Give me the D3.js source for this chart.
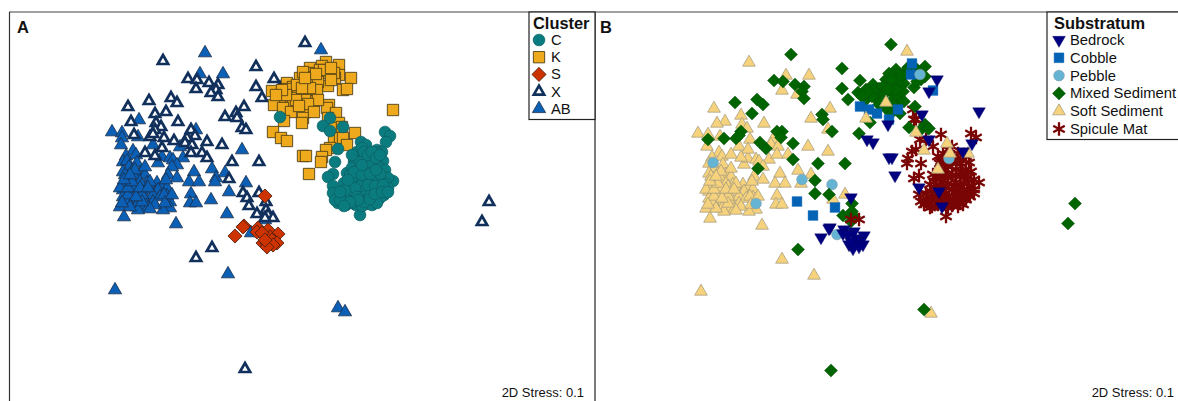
<!DOCTYPE html>
<html>
<head>
<meta charset="utf-8">
<script src="https://cdnjs.cloudflare.com/ajax/libs/d3/7.8.5/d3.min.js"></script>
<style>
  html, body { margin: 0; padding: 0; background: #fff; overflow: hidden; }
  text { font-family: "Liberation Sans", Arial, sans-serif; fill: #111; }
</style>
</head>
<body>
<div id="chart"></div>
<script>
// NMDS scores (hundredths of a unit): [nmds1, nmds2, substratum]
// substratum codes: B bedrock, C cobble, P pebble, M mixed, S soft, U spicule mat
var clusterC = [
  [-20,83,"S"],[30,82,"U"],[23,74,"M"],[30,69,"S"],[43,73,"M"],[38,51,"S"],[35,38,"U"],[33,26,"U"],[28,23,"U"],
  [44,17,"U"],[33,14,"B"],[33,7,"U"],[85,68,"U"],[90,64,"U"],[86,58,"B"],[60,-15,"U"],[61,58,"S"],[66,55,"U"],
  [57,48,"U"],[62,52,"U"],[77,50,"B"],[82,48,"S"],[78,47,"U"],[54,38,"U"],[63,43,"P"],[83,39,"U"],[47,27,"U"],
  [93,19,"U"],[38,-3,"U"],[46,-5,"U"],[43,-2,"U"],[56,-5,"B"],[35,0,"U"],[42,5,"U"],[53,2,"U"],[48,7,"U"],
  [55,40,"U"],[65,40,"U"],[75,38,"U"],[52,32,"S"],[60,32,"U"],[70,32,"U"],[80,32,"U"],[85,30,"U"],[50,25,"U"],
  [58,25,"U"],[66,26,"U"],[74,25,"U"],[82,24,"U"],[88,22,"U"],[55,19,"U"],[62,18,"U"],[70,19,"U"],[78,18,"U"],
  [86,16,"U"],[52,12,"U"],[58,11,"U"],[66,12,"U"],[73,11,"U"],[81,10,"U"],[88,12,"U"],[50,6,"U"],[56,5,"U"],
  [63,5,"U"],[70,5,"U"],[77,4,"U"],[84,5,"U"],[60,-1,"U"],[67,-1,"U"],[74,-2,"U"],[80,2,"U"],[66,-4,"U"],
  [72,-5,"U"],[77,-3,"U"],[62,-6,"U"],[49,13,"U"],[53,10,"B"],[64,48,"S"],
  [60,38,"U"],[70,38,"U"],[80,26,"U"],[54,28,"U"],[62,25,"U"],[70,26,"U"],[76,30,"U"],[60,14,"U"],[68,15,"U"],
  [75,14,"U"],[83,15,"U"],[55,12,"U"],[45,10,"U"],[40,0,"U"],[52,-3,"U"],[57,3,"U"],[64,-2,"U"],[70,1,"U"],
  [75,6,"U"],[82,8,"U"],[88,8,"U"],[48,20,"U"],[52,45,"U"],[68,45,"U"],[72,48,"U"],[62,35,"U"],[58,0,"U"],
  [50,-2,"U"],[44,-6,"U"],[40,8,"U"],[76,42,"U"],[80,45,"U"]
];
var clusterK = [
  [39,135,"M"],[26,138,"C"],[22,134,"M"],[10,132,"M"],[12,127,"M"],[25,127,"C"],[39,125,"M"],[35,122,"M"],[51,122,"B"],
  [0,122,"M"],[3,128,"M"],[7,118,"M"],[13,117,"M"],[-13,117,"M"],[28,114,"M"],[-7,113,"M"],[-12,111,"M"],[7,108,"M"],
  [-2,107,"M"],[-28,109,"M"],[43,110,"B"],[47,111,"C"],[13,105,"M"],[-20,102,"M"],[-9,102,"M"],[0,99,"S"],[14,99,"M"],
  [-26,95,"C"],[-7,97,"M"],[-17,92,"C"],[-9,88,"C"],[12,92,"C"],[5,88,"M"],[3,82,"C"],[2,77,"B"],[-16,79,"M"],
  [29,95,"M"],[27,92,"U"],[36,87,"B"],[28,82,"U"],[39,77,"M"],[35,72,"M"],[42,73,"M"],[55,67,"U"],[93,90,"B"],
  [-27,68,"M"],[-19,62,"B"],[-13,59,"B"],[34,62,"U"],[40,62,"U"],[43,62,"B"],[47,55,"U"],[30,52,"U"],[26,50,"U"],
  [3,44,"B"],[6,44,"B"],[22,43,"U"],[21,38,"U"],[9,26,"B"],[34,127,"P"],[20,130,"M"],[15,123,"M"],[-3,115,"M"],
  [18,118,"M"],[24,130,"M"],[31,132,"M"],[17,110,"M"],[5,100,"M"],[10,112,"M"],[-4,100,"M"],[-14,105,"M"],[-18,110,"M"],
  [-24,105,"M"],[18,100,"M"],[2,112,"M"],[8,96,"M"],[-1,94,"M"],[31,120,"M"],[16,126,"M"],[5,122,"M"],[14,88,"M"]
];
var clusterS = [
  [-35,4,"B"],[-56,-26,"B"],[-65,-36,"B"],[-57,-27,"B"],[-42,-28,"B"],[-32,-30,"B"],[-22,-34,"B"],[-30,-37,"B"],[-37,-43,"B"],
  [-28,-40,"B"],[-23,-43,"B"],[-33,-43,"B"],[-27,-45,"B"],[-43,-32,"B"],[-38,-33,"B"],[-33,-47,"B"],[-35,-40,"B"]
];
var clusterX = [
  [-137,139,"S"],[-44,133,"M"],[5,157,"M"],[-26,121,"M"],[-20,112,"M"],[-44,113,"M"],[-38,102,"M"],[-112,121,"M"],[-103,120,"M"],
  [-91,117,"M"],[-104,111,"S"],[-82,115,"M"],[-84,110,"M"],[-89,107,"S"],[-82,103,"M"],[-129,102,"M"],[-123,97,"M"],[-151,99,"M"],
  [-172,93,"S"],[-169,78,"S"],[-145,86,"S"],[-134,88,"M"],[-122,78,"S"],[-144,77,"S"],[-139,73,"S"],[-145,70,"M"],[-166,65,"S"],
  [-150,63,"M"],[-147,66,"M"],[-136,62,"S"],[-126,59,"M"],[-109,70,"M"],[-105,64,"M"],[-113,62,"S"],[-115,57,"S"],[-108,55,"S"],
  [-93,58,"M"],[-78,55,"S"],[-138,52,"S"],[-155,47,"S"],[-145,44,"S"],[-109,47,"S"],[-98,47,"S"],[-93,42,"M"],[-68,38,"M"],
  [-41,38,"M"],[-71,21,"M"],[-75,83,"S"],[-64,87,"M"],[-63,82,"M"],[-56,93,"S"],[-58,72,"S"],[-54,70,"M"],[-57,7,"M"],
  [-53,2,"S"],[-51,-6,"C"],[-41,7,"S"],[-34,-2,"M"],[-43,-14,"M"],[-34,-10,"M"],[-32,-15,"M"],[-27,-18,"U"],[-35,-18,"U"],
  [189,-2,"M"],[182,-22,"M"],[-55,-169,"M"],[-104,-58,"S"],[-88,-48,"M"]
];
var clusterAB = [
  [-95,147,"M"],[21,150,"S"],[-100,126,"S"],[-77,126,"S"],[-161,80,"S"],[-188,68,"S"],[-178,67,"S"],[-178,62,"M"],[-179,55,"S"],
  [-162,63,"M"],[-104,70,"M"],[-147,55,"S"],[-120,53,"M"],[-58,50,"S"],[-167,49,"S"],[-174,44,"S"],[-164,45,"S"],[-177,38,"S"],
  [-173,39,"P"],[-171,33,"S"],[-163,37,"S"],[-177,28,"S"],[-168,28,"S"],[-160,27,"S"],[-155,25,"S"],[-173,23,"S"],[-165,22,"S"],
  [-178,15,"S"],[-170,17,"S"],[-160,18,"S"],[-153,17,"S"],[-143,17,"S"],[-137,15,"S"],[-177,10,"S"],[-170,10,"S"],[-162,8,"S"],
  [-148,10,"S"],[-142,10,"S"],[-133,12,"S"],[-177,3,"S"],[-167,5,"S"],[-155,3,"S"],[-147,5,"S"],[-133,4,"S"],[-180,-7,"S"],
  [-168,-2,"S"],[-160,-3,"S"],[-155,-2,"S"],[-147,-2,"S"],[-130,-2,"P"],[-130,-8,"S"],[-157,-7,"S"],[-152,-8,"S"],[-137,-10,"S"],
  [-176,-17,"S"],[-142,37,"S"],[-138,43,"S"],[-130,42,"S"],[-127,40,"S"],[-117,42,"S"],[-123,35,"S"],[-128,33,"M"],[-132,25,"S"],
  [-123,22,"S"],[-134,20,"S"],[-106,28,"S"],[-111,18,"S"],[-101,18,"S"],[-88,31,"S"],[-84,22,"P"],[-85,18,"S"],[-75,27,"S"],
  [-54,17,"P"],[-71,8,"M"],[-109,6,"S"],[-110,-3,"S"],[-104,-3,"S"],[-89,0,"C"],[-73,-14,"C"],[-124,-24,"S"],[-49,-33,"P"],
  [-185,-90,"S"],[-72,-74,"S"],[38,-108,"M"],[45,-112,"S"],[-35,-20,"M"],[-173,0,"S"],[-164,-7,"S"],[-158,15,"S"],[-174,17,"S"],
  [-175,25,"S"],[-180,12,"S"],[-172,5,"S"],[-165,12,"S"],[-158,5,"S"],[-150,18,"S"],[-140,3,"S"],[-145,-5,"S"],[-162,-10,"S"],
  [-170,-7,"S"],[-178,-3,"S"],[-165,30,"S"],[-155,33,"S"],[-172,12,"S"],[-168,18,"S"],[-150,-9,"S"],[-158,-2,"S"],[-164,3,"S"],
  [-176,20,"S"],[-170,25,"S"],[-160,12,"S"],[-152,12,"S"],[-136,5,"S"],[-135,-3,"S"],[-128,5,"S"]
];

var clusterNames = ["C", "K", "S", "X", "AB"];
var substrateCodes = ["B", "C", "P", "M", "S", "U"];
var substrateNames = ["Bedrock", "Cobble", "Pebble", "Mixed Sediment", "Soft Sediment", "Spicule Mat"];
var stressLabel = "2D Stress: 0.1";

var svgWidth = 1178;
var svgHeight = 401;

var svg = d3.select("#chart")
  .append("svg")
  .attr("width", svgWidth)
  .attr("height", svgHeight)
  .style("display", "block");

// same samples in both panels, B just sits one panel width to the right
var xA = d3.scaleLinear().domain([-290, 295]).range([10, 595]);
var xB = d3.scaleLinear().domain([-290, 295]).range([596, 1181]);
var yA = d3.scaleLinear().domain([188, -201]).range([12, 401]);
var yB = d3.scaleLinear().domain([188, -201]).range([13.5, 402.5]);

function shape(type, size) {
  return d3.symbol().type(type).size(size)();
}

var clusterStyle = {
  C: { d: shape(d3.symbolCircle, 108), fill: "#0a7c80", stroke: "#0b5f63", sw: 0.7, rot: 0 },
  K: { d: shape(d3.symbolSquare, 128), fill: "#efa91c", stroke: "#4f3f15", sw: 0.9, rot: 0 },
  S: { d: shape(d3.symbolSquare, 100), fill: "#cc3300", stroke: "#4d2010", sw: 0.8, rot: 45 },
  X: { d: shape(d3.symbolTriangle, 46), fill: "#fff", stroke: "#12305c", sw: 2.7, rot: 0 },
  AB: { d: shape(d3.symbolTriangle, 76), fill: "#0b5fb5", stroke: "#1c2f4a", sw: 0.8, rot: 0 }
};
var substrateStyle = {
  B: { d: shape(d3.symbolTriangle, 70), fill: "#000080", stroke: "#000060", sw: 0.4, rot: 180 },
  C: { d: shape(d3.symbolSquare, 96), fill: "#0563b5", stroke: "#0563b5", sw: 0.4, rot: 0 },
  P: { d: shape(d3.symbolCircle, 90), fill: "#66b4d4", stroke: "#7f9aa5", sw: 0.6, rot: 0 },
  M: { d: shape(d3.symbolSquare, 86), fill: "#006400", stroke: "#0b4d0b", sw: 0.4, rot: 45 },
  S: { d: shape(d3.symbolTriangle, 70), fill: "#f6d27c", stroke: "#a99f80", sw: 0.8, rot: 0 },
  U: { d: shape(d3.symbolAsterisk, 125), fill: "none", stroke: "#7a0505", sw: 2.3, rot: 0 }
};

function symbolTransform(x, y, style) {
  return "translate(" + x + "," + y + ")" + (style.rot ? " rotate(" + style.rot + ")" : "");
}

function drawMarks(rows, styleOf, xScale, yScale) {
  svg.append("g")
    .selectAll("path")
    .data(rows)
    .enter()
    .append("path")
    .attr("d", d => styleOf(d).d)
    .attr("transform", d => symbolTransform(xScale(d[0]), yScale(d[1]), styleOf(d)))
    .attr("fill", d => styleOf(d).fill)
    .attr("stroke", d => styleOf(d).stroke)
    .attr("stroke-width", d => styleOf(d).sw);
}

// Panel A
[[clusterAB, "AB"], [clusterX, "X"], [clusterK, "K"], [clusterC, "C"], [clusterS, "S"]].forEach(function(group) {
  drawMarks(group[0], () => clusterStyle[group[1]], xA, yA);
});

// Panel B, the overlap order differs on the left and right side of the plot
var leftOrder = ["S", "P", "M", "C", "B", "U"];
var rightOrder = ["U", "M", "C", "P", "S", "B"];
function bySubstrate(rows, order) {
  return rows.slice().sort((a, b) => order.indexOf(a[2]) - order.indexOf(b[2]));
}
drawMarks(bySubstrate(clusterAB.concat(clusterX), leftOrder), d => substrateStyle[d[2]], xB, yB);
drawMarks(bySubstrate(clusterK.concat(clusterC), rightOrder), d => substrateStyle[d[2]], xB, yB);
drawMarks(clusterS, d => substrateStyle[d[2]], xB, yB);

// Frames
function line(x1, y1, x2, y2, color, width) {
  svg.append("line")
    .attr("x1", x1).attr("y1", y1).attr("x2", x2).attr("y2", y2)
    .attr("stroke", color).attr("stroke-width", width);
}
line(9, 12, svgWidth, 12, "#444", 1.2);
line(9.5, 12, 9.5, svgHeight, "#333", 1.2);
line(595, 12, 595, svgHeight, "#222", 1.2);

// Legends
function drawLegend(boxX, boxWidth, boxBottom, title, titleX, names, styles, symbolX, textX, firstY, stepY) {
  svg.append("rect")
    .attr("x", boxX).attr("y", 12)
    .attr("width", boxWidth).attr("height", boxBottom - 12)
    .attr("fill", "#fff").attr("stroke", "#222").attr("stroke-width", 1.2);
  svg.append("text")
    .attr("x", titleX).attr("y", 28.5)
    .attr("font-size", 16.4).attr("font-weight", "bold")
    .text(title);
  var rows = svg.append("g").selectAll("g").data(names).enter().append("g");
  rows.append("path")
    .attr("d", (d, i) => styles[i].d)
    .attr("transform", (d, i) => symbolTransform(symbolX, firstY + i * stepY, styles[i]))
    .attr("fill", (d, i) => styles[i].fill)
    .attr("stroke", (d, i) => styles[i].stroke)
    .attr("stroke-width", (d, i) => styles[i].sw);
  rows.append("text")
    .attr("x", textX)
    .attr("y", (d, i) => firstY + i * stepY + 5)
    .attr("font-size", 14.8)
    .text(d => d);
}
drawLegend(529, 66, 119.5, "Cluster", 533, clusterNames, clusterNames.map(d => clusterStyle[d]), 539, 551, 40, 17.2);
drawLegend(1047, 140, 139.5, "Substratum", 1054, substrateNames, substrateCodes.map(d => substrateStyle[d]), 1059, 1070, 40, 17.8);

// Panel letters and stress
svg.append("text").attr("x", 17).attr("y", 33).attr("font-size", 16.5).attr("font-weight", "bold").text("A");
svg.append("text").attr("x", 600).attr("y", 33).attr("font-size", 16.5).attr("font-weight", "bold").text("B");
svg.append("text").attr("x", 584).attr("y", 397).attr("text-anchor", "end").attr("font-size", 13).text(stressLabel);
svg.append("text").attr("x", 1174).attr("y", 397).attr("text-anchor", "end").attr("font-size", 13).text(stressLabel);
</script>
</body>
</html>
